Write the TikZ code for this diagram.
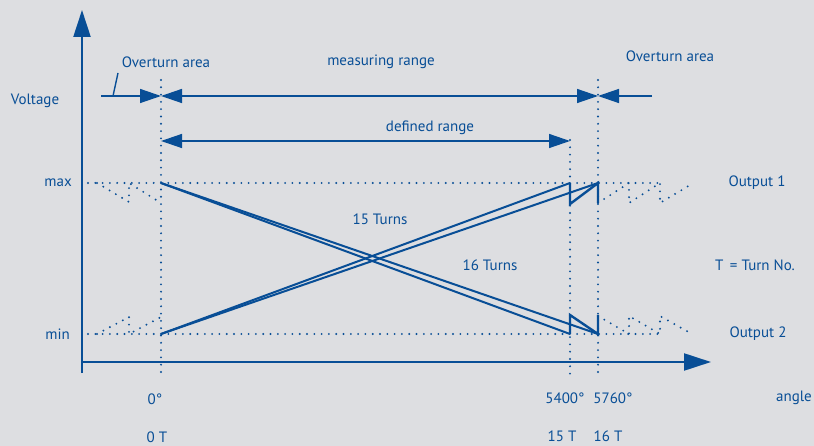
\documentclass[tikz,border=0pt]{standalone}
\usepackage{fontspec}
\setmainfont{PT Sans}
\usetikzlibrary{arrows.meta}
\definecolor{azul}{RGB}{8,78,150}
\definecolor{fondo}{RGB}{221,222,225}
\tikzstyle{Eje}=[draw=azul, line width=2.2, -{Triangle[length=27pt, width=17pt]}]
\tikzstyle{Cota}=[draw=azul, line width=1.4]
\tikzstyle{Curva}=[draw=azul, line width=2]
\tikzstyle{Salto}=[draw=azul, line width=2.4]
\tikzstyle{Punteado}=[draw=azul, line width=2.1, line cap=round, dash pattern=on 0pt off 7.3pt]
\tikzstyle{Etiqueta}=[text=azul, inner sep=0pt, font=\fontsize{15}{18}\selectfont]

\begin{document}
\begin{tikzpicture}[x=1pt, y=-1pt, >={Triangle[length=21pt, width=14pt]}]
			\useasboundingbox[fill=fondo] (0,0) rectangle (814,446);

			%Puntos
			\coordinate (ejeY_ini)	at (82,373);
			\coordinate (ejeY_fin)	at (82,10);
			\coordinate (ejeX_ini)	at (82,362);
			\coordinate (ejeX_fin)	at (711,362);

			\coordinate (g0_top)		at (161,80);
			\coordinate (g0_bot)		at (161,375);
			\coordinate (g5400_top)	at (570,140);
			\coordinate (g5400_bot)	at (570,375);
			\coordinate (g5760_top)	at (598,80);
			\coordinate (g5760_bot)	at (598,375);

			\coordinate (max_ini)	at (88,183);
			\coordinate (max_fin)	at (663,183);
			\coordinate (min_ini)	at (88,334);
			\coordinate (min_fin)	at (663,334);

			\coordinate (g0_max)		at (161,183);
			\coordinate (g0_min)		at (161,334);
			\coordinate (g5400_max)	at (570,183);
			\coordinate (g5400_min)	at (570,334);
			\coordinate (g5760_max)	at (598,183);
			\coordinate (g5760_min)	at (598,334);

			\coordinate (over_ini)	at (101,96);
			\coordinate (over_a)		at (161,96);
			\coordinate (over_b)		at (598,96);
			\coordinate (over_fin)	at (652,96);
			\coordinate (guia_ini)	at (113,96);
			\coordinate (guia_fin)	at (118,73);
			\coordinate (def_a)		at (161,141);
			\coordinate (def_b)		at (570,141);

			%Textos
			\node[Etiqueta]	(voltage)	at (35,101)		{Voltage};
			\node[Etiqueta]	(over1)	at (166,62)		{Overturn area};
			\node[Etiqueta]	(measure)	at (381,62)		{measuring range};
			\node[Etiqueta]	(over2)	at (670,56)		{Overturn area};
			\node[Etiqueta]	(defined)	at (430,128)		{defined range};
			\node[Etiqueta, anchor=east]	(max)	at (72,183)	{max};
			\node[Etiqueta, anchor=east]	(min)	at (70,334)	{min};
			\node[Etiqueta]	(out1)	at (757,183)		{Output 1};
			\node[Etiqueta]	(out2)	at (758,334)		{Output 2};
			\node[Etiqueta]	(leyenda)	at (755,265)		{T \,= Turn No.};
			\node[Etiqueta]	(turns15)	at (380,219)		{15 Turns};
			\node[Etiqueta]	(turns16)	at (490,265)		{16 Turns};
			\node[Etiqueta]	(deg0)	at (155,399)		{0°};
			\node[Etiqueta]	(deg5400)	at (565,398)		{5400°};
			\node[Etiqueta]	(deg5760)	at (613,398)		{5760°};
			\node[Etiqueta]	(angle)	at (794,398)		{angle};
			\node[Etiqueta]	(turn0)	at (157,437)		{0 T};
			\node[Etiqueta]	(turn15)	at (562,436)		{15 T};
			\node[Etiqueta]	(turn16)	at (608,436)		{16 T};

			%Guias
			\draw[Punteado] (g0_top) -- (g0_bot);
			\draw[Punteado] (g5400_top) -- (g5400_bot);
			\draw[Punteado] (g5760_top) -- (g5760_bot);
			\draw[Punteado] (max_ini) -- (max_fin);
			\draw[Punteado] (min_ini) -- (min_fin);

			%Dientes
			\draw[Punteado] (97,183) -- (129,202) -- (129,183) -- (161,203);
			\draw[Punteado] (97,334) -- (129,317) -- (129,334) -- (161,317);
			\draw[Punteado] (598,203) -- (629,183) -- (629,203) -- (660,183) -- (660,203) -- (690,185);
			\draw[Punteado] (598,316) -- (629,334) -- (629,316) -- (660,334) -- (660,316) -- (692,334);

			%Ejes
			\draw[Eje] (ejeY_ini) -- (ejeY_fin);
			\draw[Eje] (ejeX_ini) -- (ejeX_fin);

			%Rangos
			\draw[Cota, ->] (over_ini) -- (over_a);
			\draw[Cota, <->] (over_a) -- (over_b);
			\draw[Cota, ->] (over_fin) -- (over_b);
			\draw[Cota] (guia_ini) -- (guia_fin);
			\draw[Cota, <->] (def_a) -- (def_b);

			%Lineas
			\draw[Curva] (g0_max) -- (g5400_min);
			\draw[Curva] (g0_max) -- (g5760_min);
			\draw[Curva] (g0_min) -- (g5400_max);
			\draw[Curva] (g0_min) -- (g5760_max);
			\draw[Salto] (g5400_max) -- ++(0,21) -- (g5760_max) -- ++(0,20);
			\draw[Salto] (g5400_min) -- ++(0,-19) -- (g5760_min) -- ++(0,-19);

		\end{tikzpicture}
\end{document}
